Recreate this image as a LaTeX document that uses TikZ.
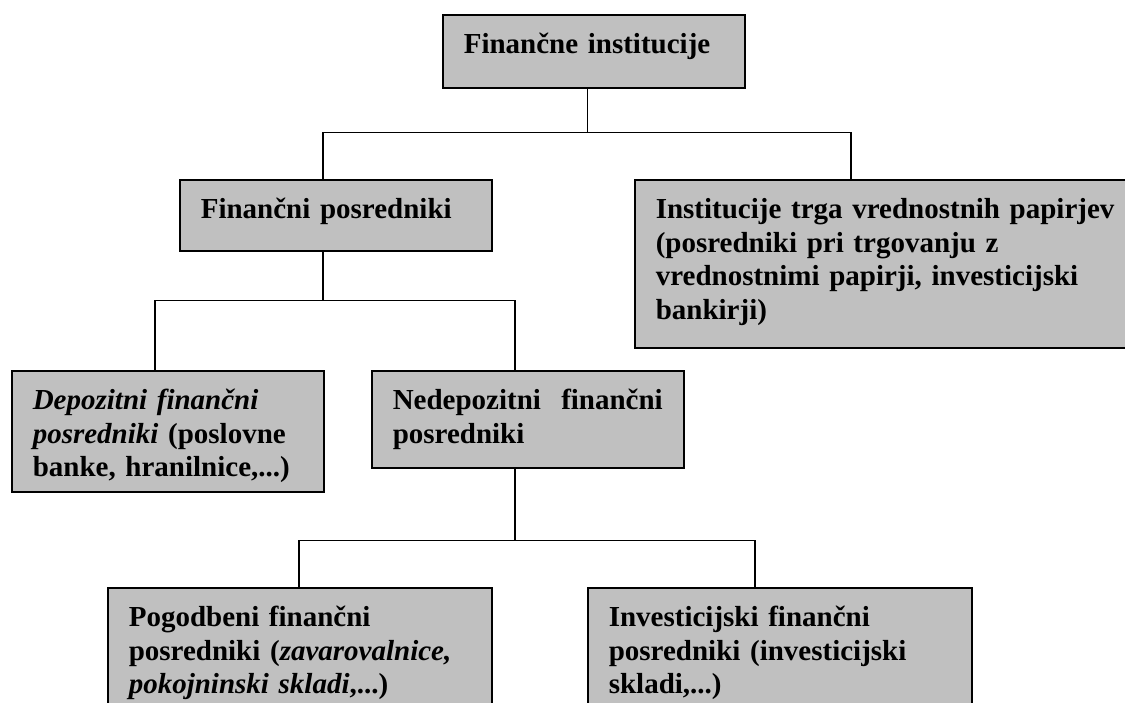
\documentclass[tikz,border=0pt]{standalone}
\usepackage{fontspec}
\setmainfont{Liberation Serif}
\definecolor{boxgray}{HTML}{C0C0C0}

\begin{document}
\begin{tikzpicture}[x=1pt,y=-1pt,line width=1.3pt,
                    font=\fontsize{29}{33.4}\selectfont\bfseries]
          \tikzstyle{orgbox}=[draw=black,fill=boxgray,line width=1.6pt,anchor=north west,
                              align=left,inner xsep=21pt,inner ysep=0pt,text height=39pt]
          \useasboundingbox (0,0) rectangle (1125,702);
          \clip (0,0) rectangle (1125,702);

          \node[orgbox,text width=260pt,text depth=34pt]  (inst) at (442,14)  {Finančne institucije};
          \node[orgbox,text width=270pt,text depth=32pt]  (fp)   at (179,179) {Finančni posredniki};
          \node[orgbox,text width=470pt,text depth=129pt] (trg)  at (634,179)
               {Institucije trga vrednostnih papirjev\\(posredniki pri trgovanju z\\vrednostnimi papirji, investicijski\\bankirji)};
          \node[orgbox,text width=270pt,text depth=82pt]  (dep)  at (11,370)
               {\textit{Depozitni finančni}\\\textit{posredniki} (poslovne\\banke, hranilnice,...)};
          \node[orgbox,text width=270pt,text depth=58pt]  (ned)  at (371,370)
               {Nedepozitni\hfill finančni\\posredniki};
          \node[orgbox,text width=342pt,text depth=120pt] (pog)  at (107,587)
               {Pogodbeni finančni\\posredniki (\textit{zavarovalnice,}\\\textit{pokojninski skladi},...)};
          \node[orgbox,text width=342pt,text depth=120pt] (inv)  at (587,587)
               {Investicijski finančni\\posredniki (investicijski\\skladi,...)};

          \draw ([xshift=-6pt]inst.south) -- ++(0,44) coordinate (j1);
          \draw ([xshift=144pt]fp.north west) |- (j1) -| ([xshift=217pt]trg.north west);
          \draw ([xshift=144pt]fp.south west) -- ++(0,49) coordinate (j2);
          \draw ([xshift=144pt]dep.north west) |- (j2) -| ([xshift=144pt]ned.north west);
          \draw ([xshift=144pt]ned.south west) -- ++(0,72) coordinate (j3);
          \draw ([xshift=192pt]pog.north west) |- (j3) -| ([xshift=168pt]inv.north west);

        \end{tikzpicture}
\end{document}
